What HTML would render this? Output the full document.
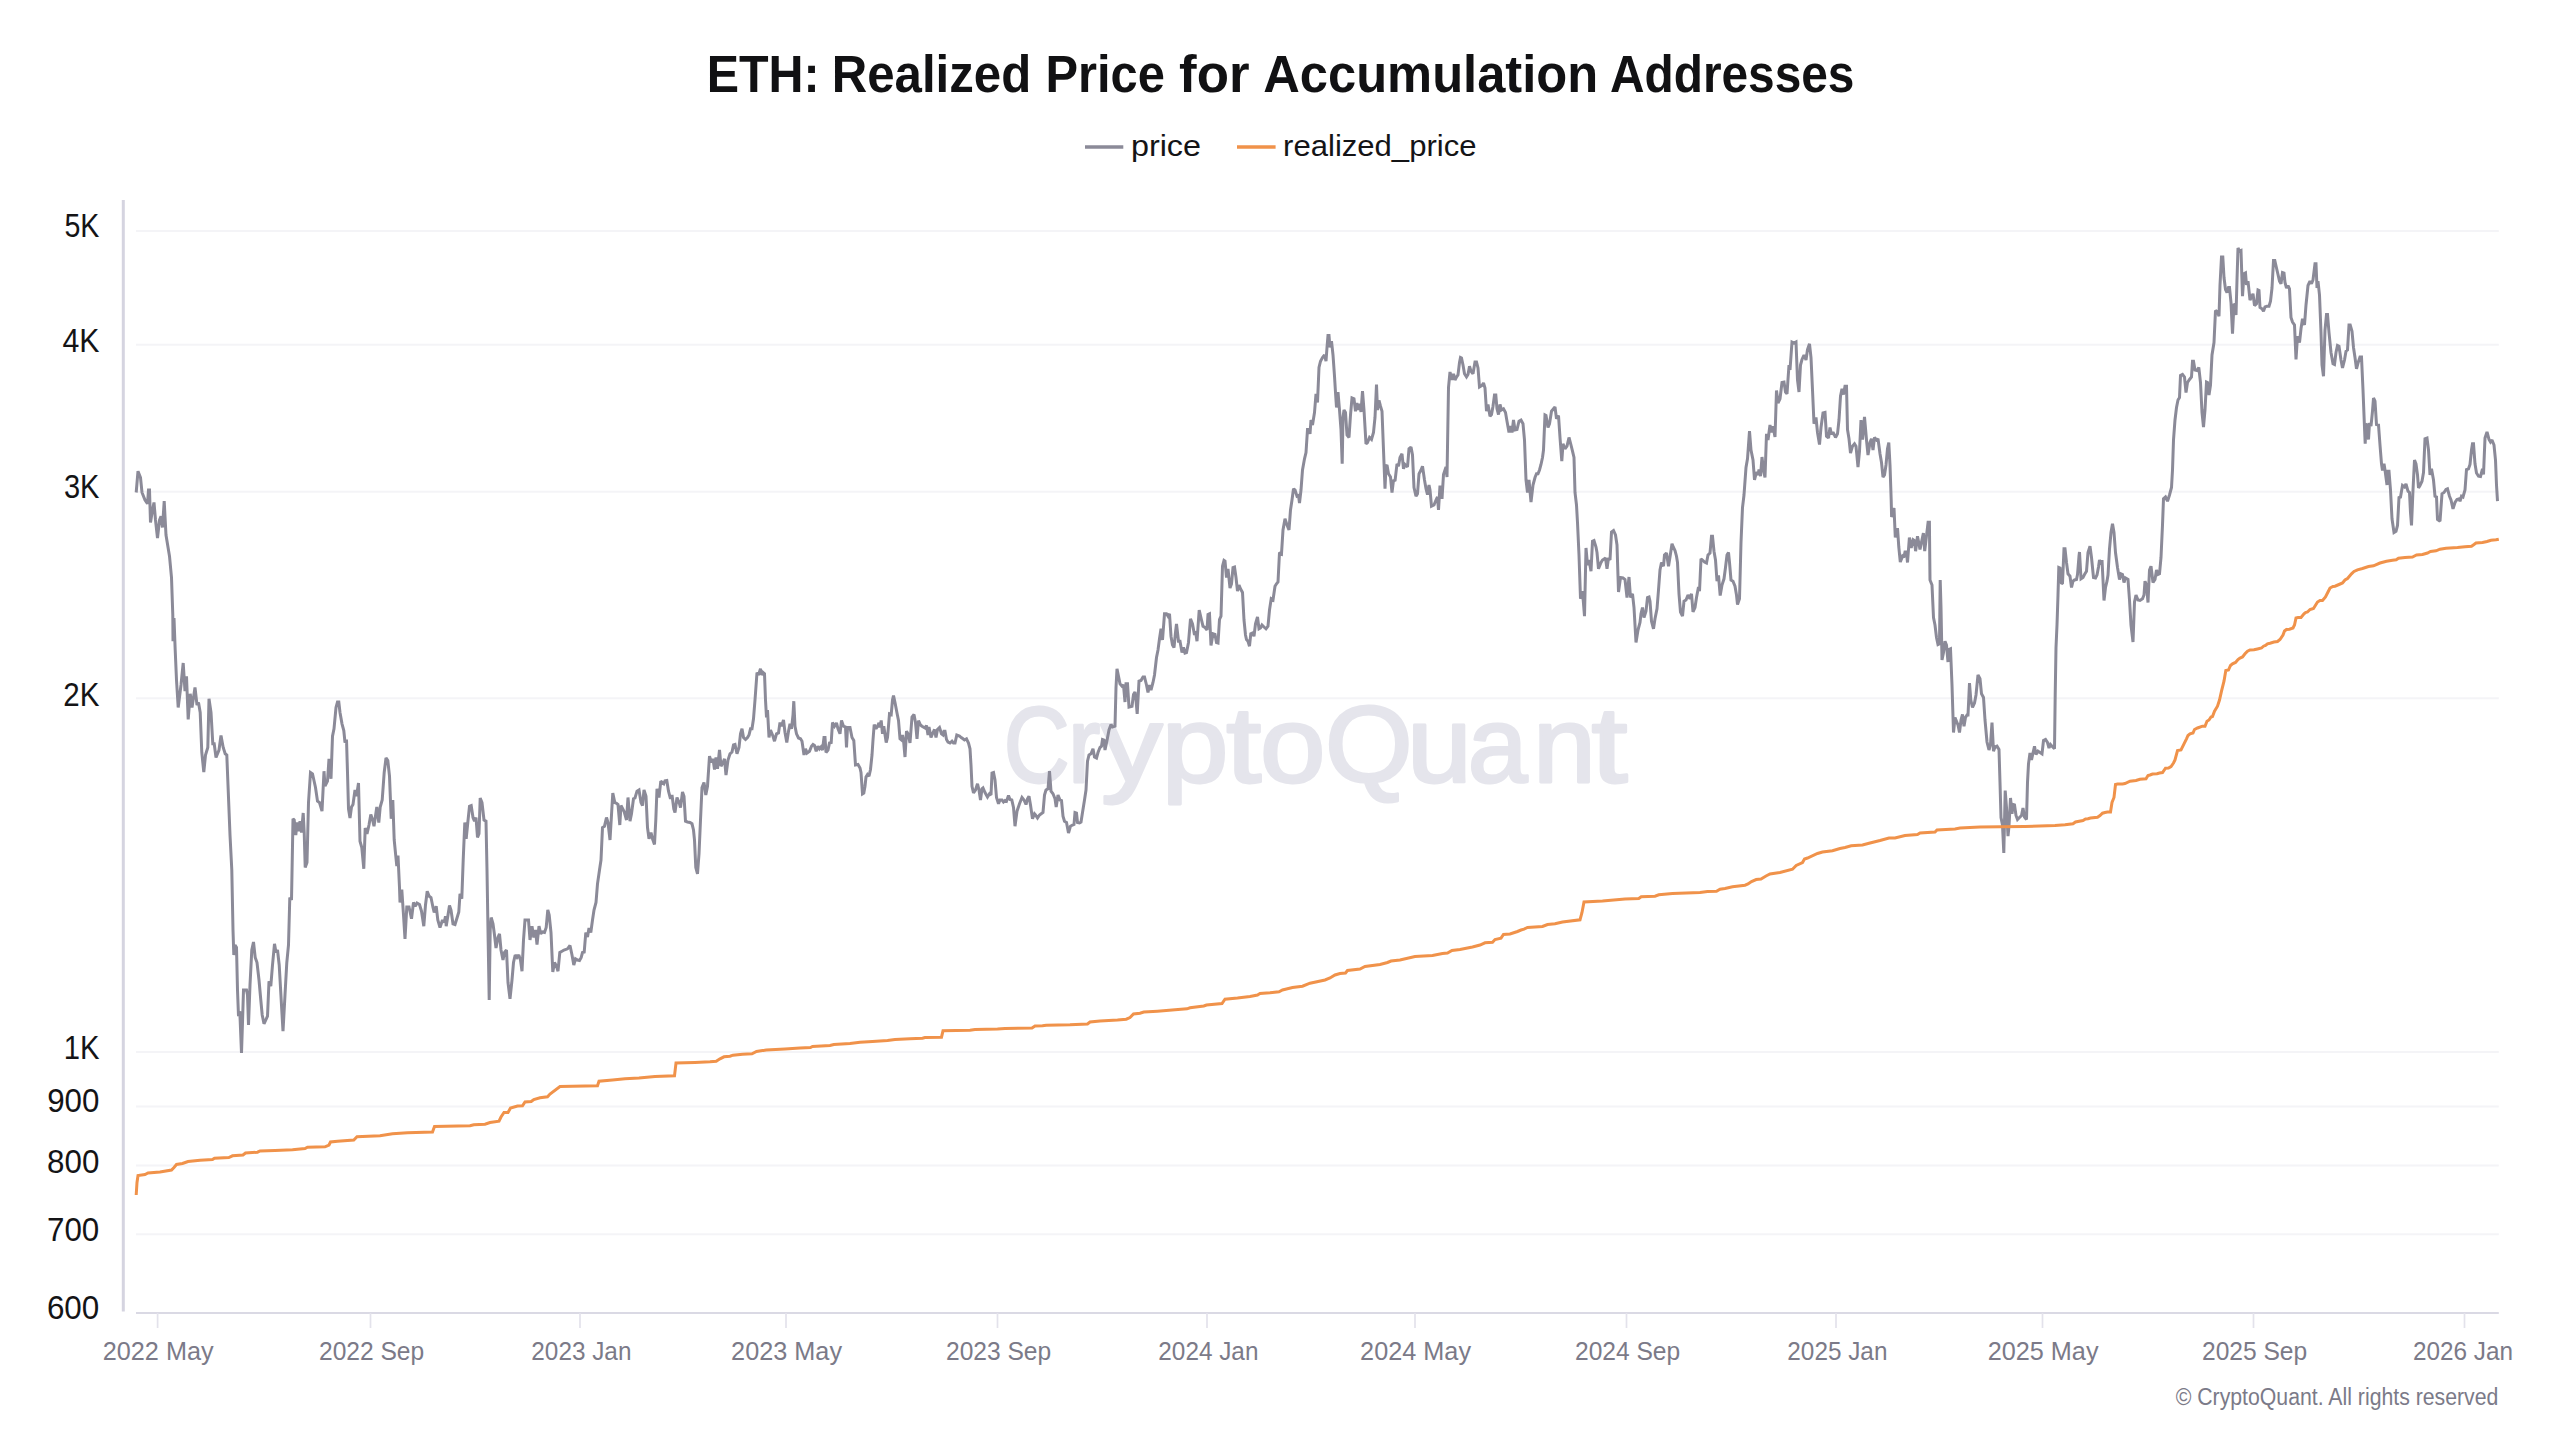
<!DOCTYPE html>
<html lang="en"><head><meta charset="utf-8"><title>ETH: Realized Price for Accumulation Addresses</title>
<style>html,body{margin:0;padding:0;background:#fff}body{width:2560px;height:1440px;overflow:hidden}svg{display:block}text{font-family:"Liberation Sans",sans-serif;white-space:pre}</style></head><body>
<svg width="2560" height="1440" viewBox="0 0 2560 1440">
<rect width="2560" height="1440" fill="#fff"/>
<text y="91.5" font-size="51" font-weight="700" fill="#111113"><tspan x="706.76" textLength="112.89" lengthAdjust="spacingAndGlyphs">ETH:</tspan> <tspan x="831.71" textLength="199.53" lengthAdjust="spacingAndGlyphs">Realized</tspan> <tspan x="1045.48" textLength="119.43" lengthAdjust="spacingAndGlyphs">Price</tspan> <tspan x="1179.10" textLength="70.45" lengthAdjust="spacingAndGlyphs">for</tspan> <tspan x="1263.24" textLength="334.90" lengthAdjust="spacingAndGlyphs">Accumulation</tspan> <tspan x="1610.06" textLength="244.40" lengthAdjust="spacingAndGlyphs">Addresses</tspan></text>
<line x1="1085" x2="1123.3" y1="147" y2="147" stroke="#8b8a98" stroke-width="3.6"/>
<line x1="1237" x2="1275.6" y1="147" y2="147" stroke="#f0924a" stroke-width="3.6"/>
<text x="1130.91" y="155.5" font-size="30" fill="#141416" textLength="70.12" lengthAdjust="spacingAndGlyphs">price</text>
<text x="1283.14" y="155.5" font-size="30" fill="#141416" textLength="193.34" lengthAdjust="spacingAndGlyphs">realized_price</text>
<line x1="136" x2="2498.8" y1="231.0" y2="231.0" stroke="#f4f4f7" stroke-width="2"/>
<line x1="136" x2="2498.8" y1="344.8" y2="344.8" stroke="#f4f4f7" stroke-width="2"/>
<line x1="136" x2="2498.8" y1="491.8" y2="491.8" stroke="#f4f4f7" stroke-width="2"/>
<line x1="136" x2="2498.8" y1="698.2" y2="698.2" stroke="#f4f4f7" stroke-width="2"/>
<line x1="136" x2="2498.8" y1="1052.0" y2="1052.0" stroke="#f4f4f7" stroke-width="2"/>
<line x1="136" x2="2498.8" y1="1106.4" y2="1106.4" stroke="#f4f4f7" stroke-width="2"/>
<line x1="136" x2="2498.8" y1="1165.6" y2="1165.6" stroke="#f4f4f7" stroke-width="2"/>
<line x1="136" x2="2498.8" y1="1234.2" y2="1234.2" stroke="#f4f4f7" stroke-width="2"/>
<text x="64.46" y="236.9" font-size="33" fill="#141416" textLength="34.97" lengthAdjust="spacingAndGlyphs">5K</text>
<text x="62.41" y="351.9" font-size="33" fill="#141416" textLength="37.03" lengthAdjust="spacingAndGlyphs">4K</text>
<text x="63.89" y="498.0" font-size="33" fill="#141416" textLength="35.53" lengthAdjust="spacingAndGlyphs">3K</text>
<text x="63.31" y="705.9" font-size="33" fill="#141416" textLength="36.12" lengthAdjust="spacingAndGlyphs">2K</text>
<text x="63.67" y="1059.1" font-size="33" fill="#141416" textLength="35.75" lengthAdjust="spacingAndGlyphs">1K</text>
<text x="47.13" y="1112.2" font-size="33" fill="#141416" textLength="52.19" lengthAdjust="spacingAndGlyphs">900</text>
<text x="47.04" y="1172.9" font-size="33" fill="#141416" textLength="52.29" lengthAdjust="spacingAndGlyphs">800</text>
<text x="46.99" y="1241.2" font-size="33" fill="#141416" textLength="52.33" lengthAdjust="spacingAndGlyphs">700</text>
<text x="46.90" y="1318.8" font-size="33" fill="#141416" textLength="52.42" lengthAdjust="spacingAndGlyphs">600</text>
<text x="102.73" y="1360" font-size="25" fill="#7b7a88" textLength="110.92" lengthAdjust="spacingAndGlyphs">2022 May</text>
<text x="318.96" y="1360" font-size="25" fill="#7b7a88" textLength="105.27" lengthAdjust="spacingAndGlyphs">2022 Sep</text>
<text x="531.33" y="1360" font-size="25" fill="#7b7a88" textLength="100.10" lengthAdjust="spacingAndGlyphs">2023 Jan</text>
<text x="731.13" y="1360" font-size="25" fill="#7b7a88" textLength="110.92" lengthAdjust="spacingAndGlyphs">2023 May</text>
<text x="945.96" y="1360" font-size="25" fill="#7b7a88" textLength="105.27" lengthAdjust="spacingAndGlyphs">2023 Sep</text>
<text x="1158.33" y="1360" font-size="25" fill="#7b7a88" textLength="100.10" lengthAdjust="spacingAndGlyphs">2024 Jan</text>
<text x="1360.13" y="1360" font-size="25" fill="#7b7a88" textLength="110.92" lengthAdjust="spacingAndGlyphs">2024 May</text>
<text x="1574.96" y="1360" font-size="25" fill="#7b7a88" textLength="105.27" lengthAdjust="spacingAndGlyphs">2024 Sep</text>
<text x="1787.33" y="1360" font-size="25" fill="#7b7a88" textLength="100.10" lengthAdjust="spacingAndGlyphs">2025 Jan</text>
<text x="1987.63" y="1360" font-size="25" fill="#7b7a88" textLength="110.92" lengthAdjust="spacingAndGlyphs">2025 May</text>
<text x="2201.96" y="1360" font-size="25" fill="#7b7a88" textLength="105.27" lengthAdjust="spacingAndGlyphs">2025 Sep</text>
<text x="2412.88" y="1360" font-size="25" fill="#7b7a88" textLength="100.10" lengthAdjust="spacingAndGlyphs">2026 Jan</text>
<text x="2175.68" y="1404.5" font-size="23.5" fill="#7b7a88" textLength="322.68" lengthAdjust="spacingAndGlyphs">© CryptoQuant. All rights reserved</text>
<text y="782.3" font-size="108" font-weight="400" fill="#e5e5ec" stroke="#e5e5ec" stroke-width="2.8" stroke-linejoin="round"><tspan x="1003.67" textLength="65.91" lengthAdjust="spacingAndGlyphs">C</tspan><tspan x="1067.97" textLength="32.24" lengthAdjust="spacingAndGlyphs">r</tspan><tspan x="1101.10" textLength="61.49" lengthAdjust="spacingAndGlyphs">y</tspan><tspan x="1161.63" textLength="67.03" lengthAdjust="spacingAndGlyphs">p</tspan><tspan x="1226.39" textLength="35.03" lengthAdjust="spacingAndGlyphs">t</tspan><tspan x="1259.96" textLength="65.49" lengthAdjust="spacingAndGlyphs">o</tspan><tspan x="1324.96" textLength="87.63" lengthAdjust="spacingAndGlyphs">Q</tspan><tspan x="1407.13" textLength="64.81" lengthAdjust="spacingAndGlyphs">u</tspan><tspan x="1467.84" textLength="59.66" lengthAdjust="spacingAndGlyphs">a</tspan><tspan x="1532.90" textLength="62.84" lengthAdjust="spacingAndGlyphs">n</tspan><tspan x="1591.64" textLength="36.01" lengthAdjust="spacingAndGlyphs">t</tspan></text>
<line x1="123.3" x2="123.3" y1="200" y2="1311.5" stroke="#d5d4e0" stroke-width="3"/>
<line x1="136" x2="2498.8" y1="1313" y2="1313" stroke="#dad9e4" stroke-width="2"/>
<line x1="157.6" x2="157.6" y1="1313" y2="1328" stroke="#e3e2eb" stroke-width="1.7"/>
<line x1="370.5" x2="370.5" y1="1313" y2="1328" stroke="#e3e2eb" stroke-width="1.7"/>
<line x1="580" x2="580" y1="1313" y2="1328" stroke="#e3e2eb" stroke-width="1.7"/>
<line x1="786" x2="786" y1="1313" y2="1328" stroke="#e3e2eb" stroke-width="1.7"/>
<line x1="997.5" x2="997.5" y1="1313" y2="1328" stroke="#e3e2eb" stroke-width="1.7"/>
<line x1="1207" x2="1207" y1="1313" y2="1328" stroke="#e3e2eb" stroke-width="1.7"/>
<line x1="1415" x2="1415" y1="1313" y2="1328" stroke="#e3e2eb" stroke-width="1.7"/>
<line x1="1626.5" x2="1626.5" y1="1313" y2="1328" stroke="#e3e2eb" stroke-width="1.7"/>
<line x1="1836" x2="1836" y1="1313" y2="1328" stroke="#e3e2eb" stroke-width="1.7"/>
<line x1="2042.5" x2="2042.5" y1="1313" y2="1328" stroke="#e3e2eb" stroke-width="1.7"/>
<line x1="2253.5" x2="2253.5" y1="1313" y2="1328" stroke="#e3e2eb" stroke-width="1.7"/>
<line x1="2464.5" x2="2464.5" y1="1313" y2="1328" stroke="#e3e2eb" stroke-width="1.7"/>
<path d="M136.2 492.5 L138.0 471.2 L140.5 477.5 L142.0 492.5 L145.0 500.0 L147.5 503.8 L148.5 490.0 L149.5 490.0 L150.5 522.5 L152.5 510.0 L154.0 502.5 L155.5 520.0 L157.5 538.0 L159.5 520.0 L161.0 516.2 L162.5 527.5 L164.2 501.2 L166.0 535.0 L169.5 556.2 L171.5 577.5 L172.8 615.0 L173.0 641.2 L174.0 618.0 L175.2 650.0 L176.5 680.0 L178.2 707.5 L181.0 685.0 L183.2 663.0 L185.0 691.2 L186.5 676.2 L188.2 719.5 L190.2 693.8 L192.0 707.5 L195.0 687.5 L197.0 705.0 L198.5 702.5 L200.2 712.5 L201.8 752.5 L203.8 772.0 L205.5 755.0 L207.8 747.5 L209.0 698.8 L211.0 712.5 L212.8 743.8 L214.2 743.8 L216.0 757.5 L219.0 750.0 L221.0 735.5 L223.2 747.5 L225.2 753.8 L226.8 755.0 L228.0 785.0 L230.0 835.0 L231.8 870.0 L233.0 930.0 L233.8 955.0 L235.0 945.0 L236.5 947.5 L237.5 990.0 L238.5 1016.2 L239.8 1011.2 L241.5 1053.0 L242.5 1022.5 L243.5 990.0 L246.5 990.0 L247.5 995.0 L248.5 1025.0 L250.0 985.0 L251.8 950.0 L253.5 942.0 L255.2 957.5 L257.0 962.5 L259.0 980.0 L260.8 1000.0 L262.2 1015.0 L264.0 1023.8 L267.5 1016.2 L269.0 981.2 L270.8 986.2 L272.5 965.0 L274.5 943.8 L276.0 952.5 L277.5 950.0 L279.2 965.0 L281.2 1000.0 L283.0 1031.2 L285.0 995.0 L286.8 962.5 L288.5 945.0 L289.8 897.5 L291.5 900.0 L293.0 818.8 L294.2 820.0 L295.8 835.0 L297.0 822.5 L298.5 831.2 L300.0 821.2 L301.5 832.5 L303.2 813.0 L304.2 832.5 L305.2 867.5 L307.0 862.5 L308.5 802.5 L310.5 772.5 L312.5 773.8 L315.5 787.5 L317.5 801.2 L319.5 802.5 L322.0 811.2 L324.0 771.2 L325.0 786.2 L327.5 781.2 L329.0 758.8 L331.0 778.8 L332.5 736.2 L334.0 728.8 L336.0 707.5 L337.5 702.0 L338.8 702.0 L340.0 712.5 L342.0 723.8 L343.8 730.5 L345.0 742.5 L346.5 739.5 L347.5 772.5 L348.5 808.8 L350.0 818.0 L351.5 807.0 L353.0 804.5 L355.0 790.0 L356.5 796.2 L358.5 783.0 L360.0 841.2 L361.8 847.5 L363.8 868.8 L365.2 828.0 L367.0 833.8 L369.0 825.0 L370.8 814.5 L372.5 819.5 L374.0 826.2 L376.8 807.0 L378.8 822.5 L380.2 807.0 L382.2 800.0 L384.2 772.5 L386.0 758.0 L387.8 760.5 L389.5 776.2 L391.2 818.8 L392.8 800.0 L394.2 840.0 L395.8 856.2 L396.8 866.2 L398.0 855.5 L399.5 887.5 L400.0 902.5 L401.8 889.5 L403.5 915.0 L405.0 938.8 L406.8 907.0 L409.0 907.0 L410.2 912.5 L411.5 918.8 L413.5 902.5 L415.2 906.2 L417.0 903.0 L419.5 904.5 L421.5 911.2 L423.8 926.2 L425.5 905.0 L427.2 891.2 L429.2 896.2 L431.0 897.5 L433.0 907.5 L434.2 912.5 L436.2 906.2 L437.8 920.0 L440.0 927.5 L442.5 920.0 L444.2 922.5 L445.5 916.2 L446.2 926.2 L448.0 915.0 L449.5 905.5 L451.0 910.0 L453.0 923.8 L455.0 924.5 L457.0 918.0 L458.8 912.0 L460.0 893.8 L461.8 898.8 L463.2 860.0 L464.8 822.5 L466.2 838.8 L467.8 822.5 L469.5 806.2 L471.2 805.5 L473.0 817.5 L474.5 821.2 L476.0 817.5 L477.5 837.5 L479.0 833.8 L480.2 798.0 L482.0 802.5 L484.0 820.0 L486.0 821.2 L487.0 870.0 L488.2 942.5 L489.2 1000.0 L490.2 930.0 L491.2 917.5 L493.0 923.8 L494.5 935.0 L496.0 948.0 L498.0 937.5 L499.5 933.8 L501.0 950.0 L503.0 960.0 L504.5 952.5 L506.5 950.0 L508.0 982.5 L510.0 998.8 L512.0 980.0 L513.5 962.5 L515.2 955.0 L517.0 957.5 L518.8 955.0 L520.5 960.0 L522.0 971.2 L523.5 940.0 L525.0 920.0 L528.5 920.0 L530.0 940.0 L532.0 926.2 L533.8 937.5 L535.5 930.0 L537.0 944.5 L539.0 926.2 L540.8 933.8 L542.5 932.0 L544.5 932.5 L546.2 927.5 L547.8 910.0 L549.2 915.0 L551.0 932.5 L552.8 972.0 L554.5 962.5 L556.5 966.2 L558.0 971.2 L559.8 952.5 L562.0 951.2 L564.0 950.0 L567.5 948.8 L570.0 945.5 L572.0 955.0 L573.8 965.0 L575.5 958.8 L577.5 960.0 L579.5 960.5 L581.2 957.5 L582.5 952.5 L584.2 952.0 L585.8 932.5 L587.5 937.0 L589.0 928.0 L590.8 932.5 L592.5 920.0 L594.0 910.0 L596.0 902.5 L597.5 883.8 L599.5 870.0 L601.0 860.0 L602.5 827.5 L604.5 826.2 L606.5 817.5 L608.0 822.5 L610.0 840.0 L611.5 815.0 L612.8 793.0 L614.8 802.5 L616.2 803.0 L618.0 804.5 L619.8 825.0 L621.0 805.5 L624.0 811.2 L626.5 820.0 L628.0 797.5 L630.0 821.2 L631.5 813.8 L633.5 798.8 L635.0 798.0 L637.0 791.2 L639.0 790.0 L641.0 802.5 L642.5 805.5 L644.0 790.0 L646.0 796.2 L647.5 827.5 L649.0 838.8 L651.0 832.5 L652.5 838.8 L654.5 844.5 L655.8 820.0 L657.0 788.8 L659.0 797.5 L660.8 781.2 L663.8 783.8 L665.0 780.8 L666.8 780.5 L668.5 791.2 L670.5 798.8 L672.0 795.0 L673.8 808.8 L675.0 812.5 L677.0 797.5 L679.5 803.8 L680.5 807.5 L682.5 792.0 L684.0 796.2 L685.5 821.2 L687.5 822.0 L690.0 822.5 L692.0 823.8 L693.5 830.0 L694.5 840.0 L695.8 867.5 L697.5 873.8 L699.0 853.8 L700.5 820.0 L702.0 787.5 L704.0 782.5 L705.8 795.0 L707.5 786.2 L709.5 756.2 L711.5 762.5 L713.0 758.8 L714.5 769.5 L716.0 757.5 L717.5 768.8 L719.5 750.0 L721.0 766.2 L723.0 762.5 L724.5 758.8 L726.0 775.0 L728.0 760.0 L730.0 753.8 L732.0 752.0 L733.5 745.0 L735.0 744.5 L737.0 753.8 L739.0 747.5 L740.5 733.8 L742.0 728.8 L743.5 737.5 L745.5 739.5 L747.5 737.5 L749.0 735.0 L750.5 728.8 L752.0 728.8 L753.5 718.8 L755.0 700.0 L757.0 672.5 L758.5 675.0 L760.5 668.8 L761.8 675.0 L763.0 672.5 L764.5 673.8 L765.5 700.0 L766.5 717.5 L767.5 710.0 L769.0 737.5 L770.5 730.0 L773.0 736.2 L774.5 741.2 L776.5 733.8 L778.5 733.0 L780.0 722.5 L781.5 726.2 L783.5 720.0 L785.0 732.5 L786.8 742.5 L788.5 731.2 L790.0 723.8 L791.5 728.8 L793.0 715.0 L793.8 701.2 L795.0 726.2 L796.5 733.8 L798.5 738.0 L800.5 738.8 L802.0 741.2 L804.0 755.0 L805.5 748.8 L807.0 753.0 L809.5 751.2 L811.5 746.2 L813.0 744.5 L814.5 745.5 L816.2 751.2 L818.0 746.2 L819.5 748.8 L821.0 747.0 L822.5 750.0 L824.0 737.5 L825.0 737.5 L826.0 752.5 L828.0 750.0 L829.5 743.0 L831.2 742.5 L832.5 722.5 L834.5 726.2 L836.5 723.0 L838.0 728.8 L840.0 733.8 L841.5 720.5 L843.5 726.2 L845.5 727.0 L846.5 747.5 L847.5 727.5 L850.0 727.5 L852.0 737.5 L853.8 740.5 L855.5 765.0 L858.0 764.5 L860.0 768.0 L861.0 772.5 L862.5 793.8 L863.8 793.0 L865.0 786.2 L866.0 777.0 L867.5 774.5 L869.0 776.2 L870.5 769.5 L872.0 755.0 L873.0 740.0 L874.2 724.5 L876.0 728.8 L877.5 726.2 L879.0 723.0 L880.0 727.5 L881.2 720.5 L882.5 733.8 L883.8 726.2 L885.0 734.5 L886.2 742.5 L887.5 737.5 L888.5 726.2 L889.5 713.8 L891.2 714.5 L892.5 700.0 L893.5 695.5 L895.0 702.5 L897.0 713.0 L898.5 720.5 L900.0 738.8 L901.5 740.0 L902.5 735.0 L903.5 740.0 L905.0 757.0 L906.5 731.2 L908.0 733.8 L910.0 743.0 L912.0 717.0 L914.0 714.5 L915.5 722.5 L917.0 738.8 L918.5 720.5 L920.5 725.0 L922.0 726.2 L925.0 728.0 L926.5 725.5 L928.0 735.0 L929.0 727.0 L931.0 737.5 L932.5 733.8 L934.5 729.5 L936.0 737.5 L937.5 729.5 L939.5 727.5 L941.5 733.8 L943.0 735.0 L944.0 731.2 L945.0 731.2 L946.5 739.5 L948.0 742.0 L950.0 743.0 L952.0 741.2 L953.5 743.0 L955.0 743.0 L956.8 735.0 L959.5 736.0 L961.2 737.5 L963.0 738.8 L964.5 740.0 L966.5 738.8 L968.5 743.0 L970.0 748.8 L971.0 765.0 L972.0 786.2 L973.5 793.0 L975.5 790.0 L977.5 783.8 L979.0 790.0 L980.5 800.0 L982.0 788.8 L983.0 788.0 L985.0 792.5 L987.5 797.0 L989.5 793.8 L991.0 795.0 L992.0 773.0 L993.5 772.5 L995.0 780.0 L996.5 797.5 L998.5 803.8 L1000.0 800.0 L1002.0 800.0 L1003.5 802.0 L1005.0 800.5 L1006.5 801.2 L1008.5 795.5 L1010.0 799.5 L1011.8 800.0 L1013.5 807.5 L1015.0 826.2 L1017.0 811.2 L1019.5 803.8 L1022.0 797.5 L1024.0 800.0 L1026.0 804.5 L1027.5 798.8 L1029.0 796.2 L1030.5 805.0 L1032.5 818.8 L1034.5 813.8 L1035.5 815.0 L1037.5 818.0 L1039.5 815.0 L1041.2 813.8 L1043.0 812.5 L1044.5 795.0 L1046.0 790.0 L1048.0 788.8 L1049.5 771.2 L1051.0 791.2 L1053.0 793.8 L1055.0 798.8 L1056.2 807.0 L1058.0 795.0 L1060.0 800.0 L1061.5 800.5 L1063.0 816.2 L1064.5 821.2 L1066.5 822.5 L1068.5 833.0 L1070.5 826.2 L1072.5 825.0 L1074.0 824.5 L1075.0 812.5 L1076.5 813.0 L1077.5 822.5 L1079.5 823.0 L1081.0 822.0 L1082.5 812.5 L1084.5 800.0 L1086.0 790.0 L1087.5 761.2 L1089.0 755.0 L1091.0 753.8 L1093.0 748.8 L1094.5 757.0 L1096.5 758.0 L1098.0 752.5 L1100.0 747.5 L1101.5 746.2 L1102.5 739.5 L1104.0 740.0 L1105.0 750.0 L1107.0 740.5 L1109.0 730.0 L1111.0 724.5 L1112.5 727.0 L1115.0 726.2 L1116.0 687.5 L1117.0 668.8 L1118.5 676.2 L1120.0 683.8 L1122.0 686.2 L1123.5 685.0 L1125.0 702.0 L1126.0 683.8 L1127.5 683.8 L1129.0 707.0 L1132.0 706.2 L1133.5 694.5 L1135.0 692.0 L1136.0 700.0 L1137.2 713.8 L1139.0 681.2 L1141.0 680.5 L1143.0 677.0 L1144.5 677.0 L1146.5 685.0 L1148.0 692.5 L1149.5 685.0 L1151.0 690.0 L1153.0 682.5 L1154.5 675.0 L1156.5 657.5 L1158.0 650.0 L1159.5 638.8 L1161.0 628.8 L1162.5 640.0 L1164.5 613.8 L1166.5 613.8 L1168.0 616.2 L1169.5 613.8 L1171.0 636.2 L1172.5 645.0 L1174.0 647.5 L1175.5 632.5 L1176.5 623.8 L1178.5 641.2 L1180.0 641.2 L1182.0 652.5 L1183.5 647.5 L1185.0 653.0 L1186.5 652.5 L1188.5 642.5 L1190.5 618.8 L1192.5 623.8 L1194.5 635.0 L1195.5 631.2 L1197.0 641.2 L1199.2 610.0 L1201.5 620.0 L1203.0 626.2 L1205.0 627.5 L1207.0 630.0 L1208.0 614.5 L1209.5 613.8 L1211.0 645.5 L1213.0 633.8 L1215.0 634.5 L1216.5 642.5 L1218.0 643.0 L1219.5 619.5 L1221.0 616.2 L1222.5 566.2 L1224.0 560.5 L1225.0 561.2 L1226.5 577.5 L1228.0 568.8 L1230.0 588.0 L1231.5 583.8 L1233.0 567.5 L1234.5 567.0 L1236.0 577.5 L1237.5 591.2 L1239.0 585.0 L1240.5 588.8 L1242.5 592.5 L1244.0 620.0 L1245.5 635.0 L1246.5 639.5 L1248.0 641.2 L1249.5 646.2 L1250.8 633.8 L1252.5 633.0 L1254.0 636.2 L1255.5 623.8 L1257.5 617.0 L1259.0 628.8 L1260.5 628.0 L1262.0 625.0 L1264.0 627.0 L1266.0 628.8 L1268.0 626.2 L1269.5 610.0 L1271.2 598.8 L1273.0 600.0 L1275.0 586.2 L1276.5 583.8 L1278.0 582.0 L1279.5 552.5 L1281.5 553.8 L1283.0 530.0 L1285.0 518.8 L1287.0 525.0 L1289.0 530.0 L1290.5 510.0 L1292.0 500.0 L1293.5 488.8 L1295.0 490.0 L1297.0 496.2 L1298.5 495.5 L1299.5 503.0 L1301.0 490.0 L1302.5 470.0 L1304.5 458.8 L1306.0 452.5 L1307.5 429.5 L1309.0 429.5 L1310.0 433.8 L1311.0 420.0 L1312.5 425.0 L1314.5 412.5 L1316.0 393.8 L1317.5 402.5 L1319.0 367.5 L1320.5 361.2 L1322.5 357.5 L1324.5 355.0 L1326.0 361.2 L1327.0 347.5 L1328.0 335.5 L1329.0 335.5 L1330.0 347.5 L1331.5 341.2 L1333.0 355.0 L1334.5 376.2 L1335.5 392.5 L1336.5 407.5 L1338.0 392.0 L1339.5 410.0 L1341.0 430.0 L1342.2 463.8 L1343.0 417.5 L1344.0 410.0 L1345.5 412.5 L1347.0 435.0 L1349.0 437.5 L1350.5 415.0 L1352.0 398.0 L1354.0 398.8 L1355.5 411.2 L1356.8 403.0 L1358.0 410.0 L1359.5 403.8 L1361.0 412.0 L1362.5 391.2 L1364.0 410.0 L1366.0 443.8 L1367.5 442.5 L1369.5 437.5 L1371.5 439.5 L1373.5 432.5 L1375.0 417.5 L1376.5 384.5 L1377.5 410.0 L1379.0 400.5 L1380.5 406.2 L1382.0 411.2 L1383.5 450.0 L1385.0 488.8 L1386.0 466.2 L1387.0 465.0 L1388.5 473.8 L1390.5 477.0 L1392.0 492.5 L1393.5 480.0 L1395.0 481.2 L1397.0 463.8 L1398.5 466.2 L1400.0 457.5 L1402.0 453.8 L1403.5 468.8 L1405.0 464.5 L1407.5 467.0 L1409.0 448.8 L1411.0 447.0 L1412.5 455.0 L1414.0 487.5 L1416.0 496.2 L1417.5 493.8 L1419.0 473.8 L1421.0 470.0 L1422.5 466.2 L1424.5 480.0 L1426.0 488.8 L1427.5 494.5 L1429.0 485.0 L1430.0 490.0 L1431.5 506.2 L1434.0 505.0 L1436.0 500.0 L1437.5 497.0 L1438.5 510.0 L1440.0 485.5 L1442.0 498.8 L1443.5 474.5 L1445.0 470.0 L1446.0 467.0 L1447.0 477.0 L1448.5 387.5 L1450.0 372.0 L1452.0 380.0 L1453.5 373.8 L1455.0 380.0 L1456.5 377.0 L1458.0 375.0 L1459.5 362.5 L1460.5 357.5 L1461.5 358.0 L1463.0 365.0 L1464.5 373.8 L1466.5 377.0 L1468.0 374.5 L1469.5 366.2 L1471.0 371.2 L1473.0 373.8 L1475.0 362.0 L1476.5 362.0 L1478.0 368.0 L1479.5 387.0 L1482.0 385.5 L1483.5 383.0 L1485.0 388.0 L1486.5 411.2 L1488.0 404.5 L1490.0 416.2 L1491.5 414.5 L1493.0 406.2 L1494.5 395.0 L1495.8 395.0 L1497.0 408.8 L1498.5 414.5 L1500.0 404.5 L1501.5 410.0 L1503.5 408.8 L1505.5 412.5 L1507.0 421.2 L1509.0 432.5 L1510.5 426.2 L1512.0 432.5 L1513.5 420.0 L1515.0 430.0 L1517.0 429.5 L1519.0 421.2 L1521.0 420.0 L1523.0 423.8 L1524.5 440.0 L1526.0 480.0 L1527.5 492.5 L1529.0 480.0 L1531.0 502.0 L1533.0 485.0 L1535.0 477.5 L1536.5 473.8 L1538.0 473.8 L1539.5 470.0 L1541.0 464.5 L1542.5 457.5 L1543.5 450.0 L1545.0 415.0 L1546.0 415.5 L1548.0 427.5 L1549.5 423.8 L1551.5 411.2 L1553.5 408.8 L1555.0 407.0 L1556.5 418.8 L1558.5 415.5 L1560.0 437.5 L1561.8 461.2 L1563.0 443.8 L1565.0 448.8 L1567.0 446.2 L1569.0 437.5 L1571.0 445.0 L1572.5 451.2 L1574.0 457.5 L1575.0 492.5 L1576.5 505.0 L1577.5 522.5 L1579.0 555.0 L1580.5 598.8 L1582.5 591.2 L1584.5 616.2 L1586.0 548.0 L1587.5 565.0 L1589.0 560.0 L1591.0 571.2 L1592.5 541.2 L1594.0 540.5 L1596.0 547.0 L1597.0 552.5 L1598.5 568.8 L1601.0 562.5 L1602.5 560.0 L1604.5 558.8 L1605.5 558.0 L1607.0 568.8 L1608.5 558.0 L1610.0 560.0 L1611.5 532.0 L1613.5 530.5 L1615.5 535.0 L1617.0 545.0 L1618.5 592.0 L1620.5 577.5 L1623.0 578.0 L1625.0 579.5 L1627.0 597.5 L1629.0 577.0 L1630.5 597.5 L1632.5 593.8 L1634.0 607.5 L1636.0 642.5 L1638.0 630.0 L1640.0 622.5 L1641.0 613.8 L1642.5 607.5 L1644.0 617.5 L1646.0 611.2 L1647.5 597.5 L1649.0 597.0 L1650.0 601.2 L1651.5 621.2 L1653.5 628.8 L1655.0 618.8 L1657.0 608.8 L1658.5 590.0 L1660.0 570.0 L1661.5 562.5 L1663.5 566.2 L1664.5 555.0 L1666.5 553.0 L1668.5 566.2 L1670.0 557.0 L1672.0 543.8 L1673.5 547.5 L1675.0 550.5 L1676.5 556.2 L1677.5 562.5 L1679.0 593.8 L1680.5 612.0 L1682.5 616.2 L1684.0 601.2 L1686.0 600.0 L1688.0 595.0 L1690.0 598.8 L1691.5 593.8 L1693.0 612.0 L1695.0 607.5 L1696.5 597.5 L1698.5 587.0 L1699.5 591.2 L1701.0 558.8 L1703.0 560.5 L1704.5 562.0 L1706.5 563.0 L1708.0 555.0 L1710.0 553.0 L1711.5 536.2 L1712.5 536.2 L1714.0 551.2 L1715.5 560.0 L1717.0 581.2 L1718.5 575.5 L1720.2 595.5 L1722.0 585.0 L1724.0 578.8 L1725.5 567.5 L1727.0 555.0 L1728.5 552.5 L1729.5 562.5 L1731.0 580.0 L1733.0 581.2 L1735.0 586.2 L1736.5 595.0 L1737.5 604.5 L1739.5 598.8 L1741.0 542.5 L1742.5 507.5 L1744.0 495.0 L1746.0 467.5 L1747.5 458.8 L1749.5 431.2 L1751.0 450.0 L1753.0 460.0 L1754.5 480.0 L1756.5 472.0 L1758.0 475.0 L1759.0 469.5 L1760.5 476.2 L1762.0 457.0 L1763.5 470.0 L1765.0 477.5 L1766.5 433.8 L1768.0 440.0 L1770.0 425.0 L1771.5 432.5 L1773.0 426.2 L1775.0 437.0 L1776.5 390.5 L1778.0 403.0 L1780.0 398.8 L1782.0 382.5 L1784.0 382.0 L1785.5 392.0 L1787.0 393.8 L1789.0 365.0 L1790.0 370.0 L1792.0 342.0 L1794.0 343.0 L1796.0 342.0 L1797.5 380.0 L1799.0 392.0 L1800.5 365.0 L1802.0 359.5 L1804.0 355.0 L1806.0 360.0 L1807.5 349.5 L1809.5 343.8 L1811.0 357.5 L1812.5 390.0 L1814.0 423.8 L1816.0 417.5 L1817.5 432.5 L1819.5 444.5 L1821.0 427.5 L1823.0 413.0 L1825.0 412.5 L1826.5 436.2 L1828.5 438.0 L1830.0 427.5 L1831.5 434.5 L1833.0 432.0 L1835.5 437.5 L1837.5 433.8 L1839.0 420.0 L1840.5 396.2 L1842.0 388.8 L1843.5 394.5 L1845.0 386.2 L1846.5 386.2 L1847.5 429.5 L1849.0 438.8 L1850.5 453.0 L1852.5 446.2 L1854.5 443.8 L1856.0 446.2 L1858.0 467.0 L1859.5 451.2 L1861.0 420.0 L1862.5 439.5 L1864.5 417.0 L1866.5 440.0 L1868.0 455.0 L1870.0 442.5 L1871.5 438.8 L1873.0 450.0 L1874.5 437.5 L1876.5 440.0 L1878.0 438.8 L1880.0 453.8 L1881.5 462.5 L1883.0 477.0 L1884.5 475.0 L1886.0 465.0 L1887.5 448.8 L1888.8 442.5 L1890.0 465.0 L1891.2 500.0 L1891.6 517.0 L1894.0 508.0 L1895.3 537.5 L1897.5 528.0 L1898.8 547.0 L1900.3 562.0 L1902.5 556.2 L1903.8 557.5 L1905.0 552.0 L1906.5 552.0 L1907.5 562.5 L1909.4 537.5 L1911.2 548.0 L1913.1 539.7 L1914.4 540.6 L1915.6 551.2 L1917.5 536.2 L1920.0 549.4 L1923.4 533.0 L1924.7 551.2 L1928.1 522.2 L1929.4 522.2 L1930.0 580.0 L1932.0 585.0 L1933.5 617.5 L1935.0 625.0 L1936.5 637.5 L1938.0 644.5 L1939.5 643.8 L1940.2 580.0 L1941.0 607.5 L1942.0 660.0 L1943.5 652.5 L1945.0 641.2 L1946.5 645.0 L1948.0 662.0 L1949.0 649.5 L1950.5 648.8 L1952.0 685.0 L1953.5 732.5 L1955.0 717.5 L1956.5 721.2 L1958.0 725.0 L1959.5 732.5 L1961.0 720.0 L1962.5 714.5 L1964.0 726.2 L1965.5 717.5 L1967.0 715.0 L1968.0 715.0 L1969.5 683.0 L1970.8 700.0 L1972.5 707.5 L1974.5 703.0 L1976.0 695.0 L1978.0 675.0 L1980.0 678.8 L1981.5 693.8 L1983.5 697.5 L1985.0 720.0 L1987.0 742.0 L1989.0 750.0 L1990.5 744.5 L1992.0 722.5 L1993.5 751.2 L1995.0 747.0 L1997.0 746.2 L1999.0 749.5 L2000.0 782.5 L2001.0 817.5 L2002.5 825.0 L2003.8 853.0 L2005.2 790.5 L2006.5 807.5 L2008.0 836.2 L2009.0 826.2 L2010.5 798.0 L2012.0 813.8 L2013.0 804.5 L2014.5 805.0 L2016.0 815.5 L2017.5 819.5 L2019.5 817.5 L2021.5 815.5 L2023.0 808.0 L2024.5 817.0 L2026.5 819.5 L2027.5 782.5 L2028.5 763.8 L2030.0 753.0 L2031.5 760.0 L2033.0 753.0 L2034.5 746.2 L2036.0 754.5 L2038.0 751.2 L2040.0 752.5 L2042.0 753.8 L2043.5 740.5 L2045.5 739.5 L2047.5 742.5 L2049.0 748.0 L2050.5 744.5 L2052.0 746.2 L2054.5 748.8 L2055.2 695.0 L2056.0 647.5 L2057.0 625.0 L2058.0 595.0 L2058.8 567.5 L2060.0 568.0 L2061.5 583.8 L2062.5 583.0 L2064.0 548.8 L2065.0 548.8 L2066.5 562.5 L2068.0 573.8 L2070.0 576.2 L2071.5 587.5 L2073.0 581.2 L2074.5 580.0 L2076.5 579.5 L2077.5 574.5 L2079.0 556.2 L2079.5 552.0 L2081.0 578.8 L2083.0 577.5 L2084.5 574.5 L2086.5 571.2 L2088.0 552.5 L2090.0 546.2 L2091.5 557.5 L2093.5 577.5 L2095.5 578.0 L2097.0 575.0 L2098.5 567.0 L2099.5 560.0 L2101.0 564.5 L2102.0 560.0 L2103.0 580.0 L2104.0 600.5 L2105.5 587.5 L2107.0 581.2 L2108.0 575.0 L2109.5 548.8 L2111.0 532.5 L2112.5 523.8 L2114.0 532.5 L2115.5 552.5 L2117.5 567.5 L2119.5 579.5 L2121.0 573.8 L2122.5 574.5 L2124.0 582.5 L2125.5 578.0 L2128.0 579.5 L2129.5 600.0 L2131.0 625.0 L2133.0 642.0 L2134.5 602.0 L2136.0 595.0 L2138.0 600.0 L2140.0 600.5 L2142.5 598.8 L2144.0 595.0 L2145.0 581.2 L2146.5 585.0 L2148.0 602.5 L2149.5 570.0 L2151.0 566.2 L2153.0 582.5 L2155.0 579.5 L2156.5 570.0 L2158.0 574.5 L2159.5 573.8 L2161.0 557.5 L2162.5 525.0 L2163.5 498.8 L2165.5 497.0 L2167.5 501.2 L2169.5 495.0 L2171.5 487.5 L2172.5 470.0 L2173.5 440.0 L2175.0 420.0 L2176.5 407.5 L2178.0 400.0 L2179.5 397.5 L2180.5 375.5 L2182.5 374.5 L2184.5 377.0 L2186.0 392.5 L2187.5 382.5 L2189.5 379.5 L2191.5 377.0 L2192.5 361.2 L2193.5 361.2 L2195.0 370.0 L2197.0 370.5 L2198.8 367.5 L2200.5 382.5 L2202.0 412.5 L2203.5 427.0 L2205.0 410.0 L2206.5 382.0 L2207.5 382.5 L2209.0 395.0 L2210.5 385.0 L2212.0 355.0 L2214.0 342.5 L2215.5 310.5 L2217.5 312.0 L2219.0 316.2 L2220.0 285.0 L2221.5 257.0 L2222.8 257.0 L2224.0 277.5 L2225.5 289.5 L2227.0 292.5 L2228.5 287.5 L2229.5 287.5 L2231.0 302.5 L2232.5 333.8 L2234.0 303.8 L2235.0 305.0 L2236.0 315.0 L2237.0 280.0 L2238.0 248.0 L2239.5 251.2 L2241.0 250.5 L2242.5 296.2 L2244.0 273.8 L2245.5 273.0 L2246.5 285.0 L2248.0 281.2 L2250.0 300.0 L2253.0 293.8 L2254.5 305.5 L2256.5 303.8 L2258.0 290.0 L2259.0 290.5 L2260.0 307.5 L2262.0 308.8 L2263.5 311.2 L2265.0 307.0 L2267.0 306.2 L2269.0 306.2 L2270.5 301.2 L2272.0 288.0 L2273.5 260.5 L2274.8 260.5 L2276.5 268.0 L2278.0 274.5 L2279.5 281.2 L2281.0 283.8 L2282.5 272.5 L2284.0 273.0 L2285.0 282.5 L2286.5 288.0 L2288.0 285.5 L2289.5 288.8 L2291.0 317.5 L2292.5 322.0 L2294.5 325.0 L2296.0 359.5 L2297.5 336.2 L2299.5 342.5 L2301.0 328.8 L2302.5 318.8 L2304.5 325.0 L2306.0 305.0 L2308.0 285.5 L2310.0 281.2 L2311.5 283.8 L2313.0 280.0 L2315.0 263.8 L2316.0 263.8 L2317.0 288.0 L2318.0 281.2 L2319.5 295.0 L2321.0 332.5 L2322.0 365.0 L2323.5 376.2 L2325.0 330.0 L2326.5 314.5 L2327.5 314.5 L2329.0 332.5 L2331.0 352.5 L2333.0 363.8 L2334.5 364.5 L2336.0 352.5 L2337.5 345.5 L2339.0 346.2 L2341.0 360.0 L2342.5 368.0 L2344.5 360.0 L2346.0 351.2 L2347.5 350.0 L2349.0 325.0 L2350.2 325.0 L2352.0 331.2 L2353.5 347.5 L2355.0 357.5 L2356.5 368.8 L2358.0 363.0 L2360.0 357.0 L2361.5 357.0 L2363.0 390.0 L2364.5 427.5 L2365.2 443.8 L2366.0 423.8 L2367.0 425.0 L2368.5 439.5 L2369.5 423.0 L2371.0 426.2 L2372.5 411.2 L2373.5 398.0 L2375.0 401.2 L2376.5 424.5 L2378.5 425.0 L2380.0 445.0 L2381.5 463.8 L2382.5 470.5 L2384.0 463.8 L2385.0 470.0 L2387.0 485.0 L2388.0 471.2 L2389.0 471.2 L2390.5 490.0 L2392.0 518.8 L2394.0 532.5 L2396.0 531.2 L2397.5 525.5 L2399.0 497.5 L2400.5 497.0 L2402.5 485.5 L2404.5 487.0 L2406.0 483.8 L2408.0 491.2 L2409.5 492.5 L2410.5 512.5 L2411.5 525.5 L2413.0 490.0 L2414.5 460.0 L2416.0 463.8 L2417.5 475.0 L2418.5 488.0 L2420.0 485.5 L2422.0 481.2 L2423.5 472.5 L2425.0 438.8 L2427.0 438.0 L2428.5 450.0 L2430.0 475.0 L2431.5 468.8 L2433.5 480.0 L2435.0 496.2 L2436.5 497.0 L2437.5 519.5 L2440.0 521.2 L2442.0 493.8 L2444.0 492.5 L2446.0 489.5 L2447.5 488.8 L2449.5 496.2 L2451.0 500.0 L2453.0 508.8 L2455.0 502.5 L2457.0 499.5 L2459.0 498.8 L2460.0 501.2 L2461.5 496.2 L2463.0 497.0 L2465.0 490.0 L2466.5 469.5 L2468.5 468.8 L2470.0 464.5 L2471.5 450.0 L2472.5 443.8 L2473.5 443.8 L2475.0 463.8 L2476.5 473.0 L2478.5 476.2 L2480.5 476.5 L2482.5 468.8 L2483.5 474.5 L2485.0 438.0 L2487.0 432.0 L2489.0 439.5 L2490.5 442.0 L2492.0 440.0 L2494.0 445.0 L2495.5 460.0 L2496.5 485.0 L2497.5 501.2" fill="none" stroke="#8b8a98" stroke-width="3" stroke-linejoin="miter" stroke-miterlimit="2"/>
<path d="M136.2 1195.0 L137.0 1182.5 L138.0 1175.5 L145.0 1174.5 L148.0 1173.0 L160.0 1172.0 L171.5 1170.0 L174.0 1167.5 L176.5 1164.5 L182.5 1163.5 L188.0 1161.5 L200.0 1160.2 L212.5 1159.5 L214.5 1158.2 L228.8 1157.5 L232.5 1155.8 L243.0 1155.0 L245.5 1153.0 L257.5 1152.2 L260.0 1151.0 L275.0 1150.5 L292.5 1149.8 L305.0 1148.5 L307.5 1147.2 L325.0 1146.8 L329.0 1145.0 L330.5 1142.0 L337.5 1141.2 L353.8 1140.0 L357.0 1136.8 L380.0 1135.8 L392.5 1133.8 L407.5 1132.8 L432.5 1132.0 L434.5 1126.5 L470.0 1125.8 L473.8 1124.8 L485.0 1124.2 L490.0 1122.5 L499.0 1121.2 L501.0 1117.0 L504.0 1112.5 L508.0 1112.5 L510.5 1108.0 L517.5 1106.0 L522.5 1105.8 L525.0 1102.0 L531.2 1101.5 L533.8 1099.5 L540.0 1097.8 L547.5 1096.8 L550.0 1094.0 L560.0 1086.5 L597.5 1085.8 L599.0 1081.2 L612.5 1080.0 L625.0 1078.8 L639.0 1078.0 L655.0 1076.5 L674.5 1075.8 L676.0 1063.0 L695.0 1062.5 L710.0 1061.8 L716.2 1061.2 L720.0 1058.8 L724.0 1056.8 L730.0 1056.2 L733.0 1055.2 L742.5 1054.2 L752.0 1053.8 L756.5 1051.5 L766.2 1050.0 L785.0 1049.0 L800.0 1048.0 L810.5 1047.5 L812.5 1046.5 L830.0 1045.5 L833.8 1044.5 L850.0 1043.5 L860.0 1042.2 L872.5 1041.5 L887.5 1040.5 L895.0 1039.5 L910.0 1038.8 L922.5 1038.2 L925.0 1037.5 L941.5 1037.2 L943.0 1030.8 L970.0 1030.2 L975.0 1029.5 L997.5 1029.0 L1005.0 1028.5 L1032.0 1028.0 L1035.0 1026.0 L1042.5 1025.8 L1046.2 1025.2 L1070.0 1024.8 L1087.5 1024.0 L1090.0 1022.0 L1100.0 1021.0 L1117.5 1020.0 L1126.2 1019.2 L1130.0 1017.5 L1133.5 1014.0 L1140.0 1013.2 L1143.8 1012.0 L1157.5 1011.2 L1175.0 1009.8 L1187.0 1008.8 L1190.0 1007.8 L1203.8 1006.0 L1206.5 1005.0 L1222.0 1003.5 L1225.0 999.2 L1237.5 998.0 L1250.0 996.5 L1257.5 995.0 L1260.0 993.5 L1270.0 992.8 L1279.0 991.8 L1282.5 990.0 L1292.5 987.5 L1302.5 986.2 L1310.0 983.2 L1325.0 980.0 L1330.0 978.0 L1335.0 975.0 L1340.0 973.5 L1345.5 973.0 L1347.5 970.5 L1360.0 969.0 L1365.0 966.5 L1380.0 964.5 L1387.5 962.5 L1391.0 961.0 L1400.0 960.0 L1415.0 956.5 L1432.5 955.5 L1442.5 953.5 L1447.5 953.0 L1452.0 950.5 L1460.0 949.5 L1472.5 947.0 L1480.0 945.0 L1485.0 942.8 L1492.5 942.2 L1495.0 939.5 L1501.0 938.2 L1503.5 934.5 L1510.0 934.0 L1517.5 931.5 L1521.0 930.0 L1524.0 929.2 L1527.5 927.5 L1542.5 926.5 L1547.5 924.5 L1555.0 923.8 L1562.5 922.0 L1580.0 919.8 L1582.0 912.5 L1584.0 902.0 L1602.5 901.0 L1625.0 899.0 L1638.8 898.5 L1641.2 896.8 L1655.0 896.2 L1658.8 894.8 L1672.5 893.5 L1700.0 892.5 L1707.5 891.5 L1716.5 891.2 L1720.0 889.2 L1725.0 888.5 L1732.5 886.8 L1745.0 885.2 L1748.0 884.0 L1751.5 881.5 L1756.2 879.5 L1761.0 879.0 L1766.0 876.0 L1770.0 874.0 L1780.0 872.5 L1792.5 869.2 L1796.2 865.5 L1802.5 862.5 L1804.5 859.0 L1807.5 858.0 L1817.5 853.5 L1822.5 852.0 L1832.5 850.8 L1840.0 848.5 L1845.0 847.5 L1851.2 845.8 L1862.5 845.0 L1870.0 843.0 L1880.0 840.5 L1889.0 838.0 L1895.0 838.0 L1905.0 835.5 L1917.5 834.5 L1920.0 833.0 L1935.0 832.0 L1937.0 830.0 L1955.0 829.0 L1960.0 828.0 L1980.0 827.0 L2000.0 826.8 L2025.0 826.5 L2055.0 825.5 L2065.0 824.8 L2073.0 823.8 L2075.5 822.0 L2083.0 820.5 L2085.5 819.0 L2088.0 818.8 L2090.5 818.0 L2097.5 817.2 L2100.0 815.5 L2102.5 813.2 L2105.0 812.5 L2107.5 812.0 L2110.5 812.0 L2112.0 802.5 L2114.0 797.5 L2115.5 784.5 L2117.5 784.0 L2122.5 784.0 L2125.0 783.5 L2130.0 781.2 L2136.0 780.5 L2140.0 779.2 L2146.0 778.8 L2148.0 775.5 L2150.0 775.0 L2152.5 774.0 L2157.0 773.8 L2159.5 773.0 L2162.5 772.5 L2165.5 768.2 L2168.5 768.0 L2171.0 766.5 L2173.5 763.0 L2175.0 760.0 L2177.5 750.5 L2181.0 750.0 L2184.0 743.8 L2186.5 738.8 L2188.0 735.5 L2190.0 733.8 L2193.0 733.0 L2194.5 729.5 L2197.5 728.0 L2202.5 726.2 L2205.0 726.2 L2207.0 721.2 L2209.0 720.0 L2211.0 717.0 L2212.5 716.5 L2214.5 711.2 L2217.5 706.2 L2219.5 700.0 L2221.5 691.2 L2224.0 681.2 L2225.8 670.5 L2228.5 670.0 L2230.5 665.5 L2232.5 663.8 L2235.5 662.5 L2238.0 659.5 L2240.0 658.0 L2242.5 657.0 L2245.0 653.8 L2247.5 651.2 L2250.0 650.0 L2254.0 649.8 L2257.5 649.0 L2261.5 648.0 L2263.5 646.2 L2265.5 645.5 L2267.5 643.8 L2270.0 643.2 L2274.0 642.0 L2277.5 641.5 L2280.0 639.5 L2283.0 635.0 L2284.5 631.0 L2286.5 629.5 L2289.5 629.2 L2293.0 628.0 L2294.5 625.0 L2296.0 618.0 L2298.0 617.5 L2301.0 617.5 L2304.0 613.8 L2305.5 612.5 L2307.5 612.0 L2310.0 609.5 L2313.5 608.5 L2317.5 602.0 L2320.0 600.5 L2322.5 600.5 L2325.5 597.0 L2328.0 592.0 L2330.0 588.0 L2333.0 586.5 L2335.0 586.2 L2339.0 584.5 L2342.5 583.0 L2345.0 580.0 L2347.5 578.5 L2351.5 573.8 L2354.0 571.5 L2357.5 569.8 L2362.5 568.5 L2368.5 566.5 L2373.5 565.8 L2380.0 563.0 L2386.5 561.2 L2392.5 560.2 L2396.2 559.8 L2398.5 558.2 L2405.0 557.5 L2412.5 557.0 L2416.5 555.0 L2422.5 554.5 L2427.5 553.0 L2430.5 551.5 L2436.0 550.8 L2440.0 549.2 L2446.0 548.2 L2457.5 547.5 L2465.0 546.8 L2471.5 546.2 L2474.0 544.5 L2476.0 543.0 L2482.5 542.5 L2487.0 541.5 L2491.0 540.2 L2496.0 539.8 L2498.8 539.2" fill="none" stroke="#f0924a" stroke-width="3" stroke-linejoin="miter" stroke-miterlimit="2"/>
</svg></body></html>
